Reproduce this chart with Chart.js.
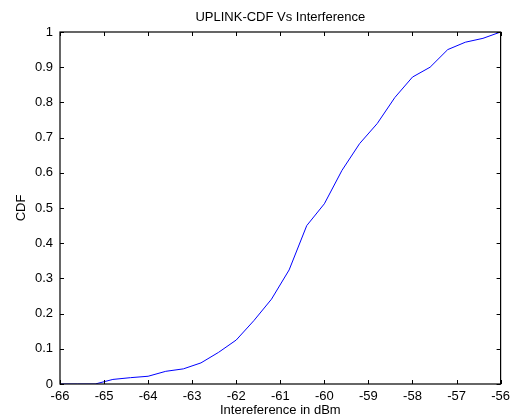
<!DOCTYPE html>
<html lang="en">
  <head>
    <meta charset="utf-8" />
    <title>UPLINK-CDF Vs Interference</title>
    <style>
      * {
        margin: 0;
        padding: 0;
      }
      body {
        background: white;
      }
      .chartBox {
        width: 515px;
        height: 418px;
      }
    </style>
  </head>
  <body>
    <div class="chartBox">
      <canvas id="myChart" width="515" height="418"></canvas>
    </div>
    <script src="https://cdn.jsdelivr.net/npm/chart.js"></script>
    <script>
      // interference levels (dBm)
      const interference = [
        -66, -65.6, -65.2, -64.8, -64.4, -64, -63.6, -63.2, -62.8, -62.4, -62,
        -61.6, -61.2, -60.8, -60.4, -60, -59.6, -59.2, -58.8, -58.4, -58,
        -57.6, -57.2, -56.8, -56.4, -56,
      ];
      // CDF values
      const cdf = [
        0, 0, 0, 0.013, 0.018, 0.022, 0.036, 0.043, 0.06, 0.09, 0.125, 0.18,
        0.241, 0.324, 0.45, 0.512, 0.607, 0.683, 0.74, 0.814, 0.872, 0.9,
        0.95, 0.971, 0.982, 1,
      ];
      const xTicks = [-66, -65, -64, -63, -62, -61, -60, -59, -58, -57, -56];
      const yTicks = [0, 0.1, 0.2, 0.3, 0.4, 0.5, 0.6, 0.7, 0.8, 0.9, 1];

      const points = interference.map((x, i) => ({ x: x, y: cdf[i] }));
      const font = { family: "'Liberation Sans', Arial, sans-serif", size: 13 };

      // matlab style box + inward ticks on all four sides
      const boxPlugin = {
        id: "matlabBox",
        afterDraw(chart) {
          const { ctx, chartArea: a, scales } = chart;
          const len = 4;
          ctx.save();
          ctx.strokeStyle = "#000";
          ctx.lineWidth = 1;
          ctx.beginPath();
          xTicks.forEach((v) => {
            const px = Math.round(scales.x.getPixelForValue(v)) + 0.5;
            ctx.moveTo(px, a.bottom);
            ctx.lineTo(px, a.bottom - len);
            ctx.moveTo(px, a.top);
            ctx.lineTo(px, a.top + len);
          });
          yTicks.forEach((v) => {
            const py = Math.round(scales.y.getPixelForValue(v)) + 0.5;
            ctx.moveTo(a.left, py);
            ctx.lineTo(a.left + len, py);
            ctx.moveTo(a.right, py);
            ctx.lineTo(a.right - len, py);
          });
          ctx.stroke();
          ctx.lineWidth = 1.2;
          ctx.strokeRect(a.left, a.top, a.right - a.left, a.bottom - a.top);
          ctx.restore();
        },
      };

      const data = {
        datasets: [
          {
            label: "CDF",
            data: points,
            borderColor: "rgb(0, 0, 255)",
            borderWidth: 1,
            pointRadius: 0,
            tension: 0,
            fill: false,
          },
        ],
      };

      const config = {
        type: "line",
        data,
        options: {
          responsive: false,
          animation: false,
          layout: { padding: { left: 0, right: 8, top: 0, bottom: 0 } },
          plugins: {
            legend: { display: false },
            tooltip: { enabled: false },
            title: {
              display: true,
              text: "UPLINK-CDF Vs Interference",
              color: "#000",
              fullSize: false,
              font: { ...font, weight: "normal" },
              padding: { top: 9.2, bottom: 7.2 },
            },
          },
          scales: {
            x: {
              type: "linear",
              min: -66,
              max: -56,
              afterBuildTicks: (s) => {
                s.ticks = xTicks.map((v) => ({ value: v }));
              },
              afterFit: (s) => {
                s.height = 34;
              },
              grid: { display: false, drawTicks: false },
              border: { display: false },
              ticks: {
                color: "#000",
                font,
                padding: 5,
                maxRotation: 0,
                autoSkip: false,
                callback: (v) => String(v),
              },
              title: {
                display: true,
                text: "Intereference in dBm",
                color: "#000",
                font,
                padding: { top: 0, bottom: 0 },
              },
            },
            y: {
              type: "linear",
              min: 0,
              max: 1,
              afterBuildTicks: (s) => {
                s.ticks = yTicks.map((v) => ({ value: v }));
              },
              afterFit: (s) => {
                s.width = 60;
              },
              grid: { display: false, drawTicks: false },
              border: { display: false },
              ticks: {
                color: "#000",
                font,
                padding: 7,
                autoSkip: false,
                callback: (v) => String(v),
              },
              title: {
                display: true,
                text: "CDF",
                color: "#000",
                font,
                padding: { top: 14, bottom: 0 },
              },
            },
          },
        },
        plugins: [boxPlugin],
      };

      const myChart = new Chart(document.getElementById("myChart"), config);
    </script>
  </body>
</html>
